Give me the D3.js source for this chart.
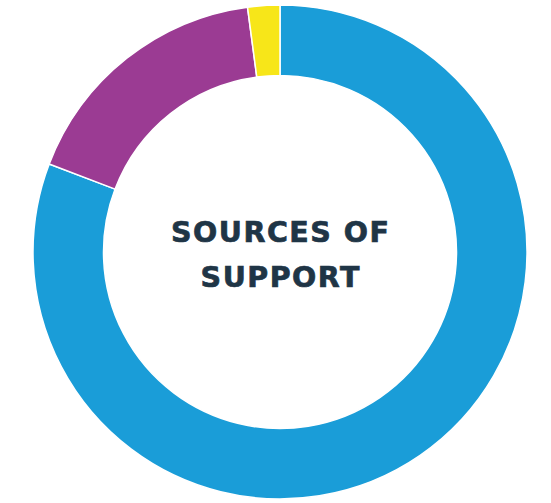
<!DOCTYPE html>
<html>
<head>
<meta charset="utf-8">
<script src="https://cdn.jsdelivr.net/npm/d3@7"></script>
<style>
	body { margin: 0; background: #fff; }
	svg { display: block; }
</style>
</head>
<body>
<div id="chart"></div>
<script>
const sources = ['Source A', 'Source B', 'Source C'];
const shares = [80.8, 17.1, 2.1];
const colours = ['#1a9dd8', '#9b3b93', '#f7e619'];
const titleLines = ['SOURCES OF', 'SUPPORT'];

const width = 551;
const height = 503;
const cx = 280;
const cy = 252;
const outerR = 247;
const innerR = 176.5;
const spacing = 1.5;

const data = sources.map((s, i) => ({label: s, value: shares[i], colour: colours[i]}));

const svg = d3
	.select('#chart')
	.append('svg')
	.attr('width', width)
	.attr('height', height);

const g = svg.append('g').attr('transform', `translate(${cx}, ${cy})`);

const pie = d3
	.pie()
	.value((d) => d.value)
	.sort(null);

const arc = d3.arc().innerRadius(innerR).outerRadius(outerR);

g.selectAll('path')
	.data(pie(data))
	.enter()
	.append('path')
	.attr('d', arc)
	.attr('fill', (d) => d.data.colour)
	.attr('stroke', '#fff')
	.attr('stroke-width', 1.5);

// Centre title (a thin stroke gives it the heavier look of the original)
g.selectAll('text')
	.data(titleLines)
	.enter()
	.append('text')
	.attr('text-anchor', 'middle')
	.attr('x', spacing / 2)
	.attr('y', (d, i) => -10 + i * 45)
	.style('font-family', "'DejaVu Sans', sans-serif")
	.style('font-weight', 700)
	.style('font-size', '28.5px')
	.style('letter-spacing', `${spacing}px`)
	.style('fill', '#1f3546')
	.style('stroke', '#1f3546')
	.style('stroke-width', 0.7)
	.text((d) => d);
</script>
</body>
</html>
